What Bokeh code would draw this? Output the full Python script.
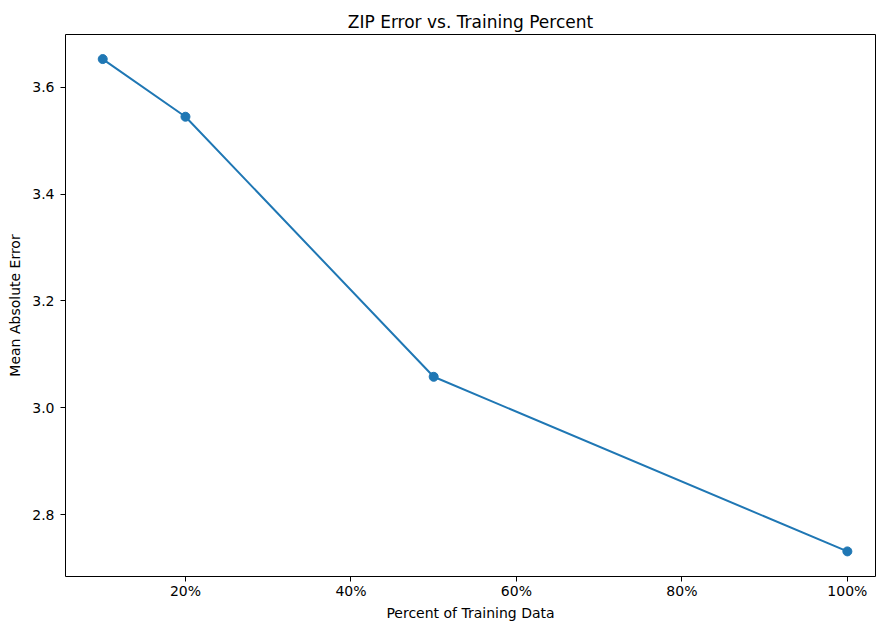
from bokeh.plotting import figure
from bokeh.models import FixedTicker, PrintfTickFormatter, Range1d
from bokeh.embed import file_html
from bokeh.resources import INLINE

percent = [10, 20, 50, 100]
mae = [3.653, 3.545, 3.058, 2.731]
x_ticks = [20, 40, 60, 80, 100]
y_ticks = [2.8, 3.0, 3.2, 3.4, 3.6]

FONT = "DejaVu Sans"
BLUE = "#1f77b4"

p = figure(width=876, height=623, output_backend="svg", toolbar_location=None,
           x_range=Range1d(5.5, 103.4), y_range=Range1d(2.684, 3.699),
           title="ZIP Error vs. Training Percent",
           x_axis_label="Percent of Training Data", y_axis_label="Mean Absolute Error")
p.min_border_left = 65
p.min_border_right = 1
p.min_border_top = 34
p.min_border_bottom = 46

p.title.align = "center"
p.title.text_font = FONT
p.title.text_font_style = "normal"
p.title.text_font_size = "17px"
p.title.text_color = "black"
p.title.offset = 0
p.title.standoff = 6

p.grid.visible = False
p.outline_line_color = "black"
p.outline_line_width = 1
p.outline_line_alpha = 1

for ax in (p.xaxis[0], p.yaxis[0]):
    ax.axis_line_color = None
    ax.major_tick_line_color = "black"
    ax.major_tick_out = 5
    ax.major_tick_in = 0
    ax.minor_tick_line_color = None
    ax.major_label_text_font = FONT
    ax.major_label_text_font_size = "14px"
    ax.major_label_text_color = "black"
    ax.axis_label_text_font = FONT
    ax.axis_label_text_font_size = "14px"
    ax.axis_label_text_font_style = "normal"
    ax.axis_label_text_color = "black"

p.xaxis.ticker = FixedTicker(ticks=x_ticks)
p.xaxis.formatter = PrintfTickFormatter(format="%d%%")
p.xaxis.major_label_standoff = 1
p.xaxis.axis_label_standoff = 3
p.yaxis.ticker = FixedTicker(ticks=y_ticks)
p.yaxis.formatter = PrintfTickFormatter(format="%.1f")
p.yaxis.major_label_standoff = 6
p.yaxis.axis_label_standoff = 6

p.line(percent, mae, line_color=BLUE, line_width=2)
p.scatter(percent, mae, size=9, fill_color=BLUE, line_color=BLUE)

open("out.html", "w").write(file_html(p, INLINE))
